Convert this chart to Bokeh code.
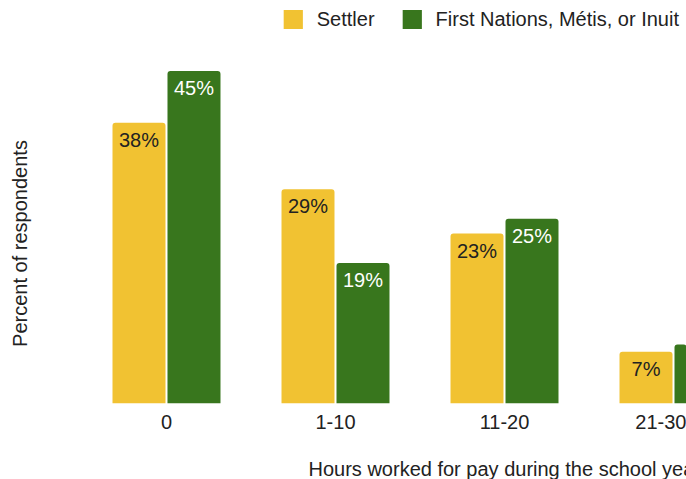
import numpy as np
from bokeh.plotting import figure
from bokeh.models import Range1d, FixedTicker, Legend, LegendItem, Label, ColumnDataSource, Title
from bokeh.core.properties import value
from bokeh.embed import file_html
from bokeh.resources import INLINE

# ---- data ----
categories = ["0", "1-10", "11-20", "21-30"]
settler = [38, 29, 23, 7]
first_nations = [45, 19, 25, 8]
series_names = ["Settler", "First Nations, Métis, or Inuit"]

YELLOW = "#F1C232"
GREEN = "#38761D"
FONT = "Liberation Sans"
TXT = "#222222"
FS = "20px"

idx = np.arange(len(categories))
off = 0.1627
bw = 0.3136

p = figure(width=686, height=479, output_backend="svg", toolbar_location=None,
           x_range=Range1d(-0.9822, 3.0769), y_range=Range1d(0, 54.53),
           min_border_left=0, min_border_right=0, min_border_top=0, min_border_bottom=76)
p.outline_line_color = None
p.xgrid.visible = False
p.ygrid.visible = False
p.yaxis.visible = False
p.background_fill_color = "white"

src_s = ColumnDataSource(dict(x=idx - off, top=settler, lab=[f"{v}%" for v in settler]))
src_f = ColumnDataSource(dict(x=idx + off, top=first_nations, lab=[f"{v}%" for v in first_nations]))

r1 = p.vbar(x="x", top="top", bottom=0, width=bw, source=src_s, fill_color=YELLOW,
            line_color=None, border_radius=(3, 3, 0, 0))
r2 = p.vbar(x="x", top="top", bottom=0, width=bw, source=src_f, fill_color=GREEN,
            line_color=None, border_radius=(3, 3, 0, 0))

p.text(x="x", y="top", text="lab", source=src_s, y_offset=17, text_align="center",
       text_baseline="middle", text_font=value(FONT), text_font_size=FS, text_color=TXT)
p.text(x="x", y="top", text="lab", source=src_f, y_offset=17, text_align="center",
       text_baseline="middle", text_font=value(FONT), text_font_size=FS, text_color="white")

ax = p.xaxis[0]
ax.ticker = FixedTicker(ticks=list(idx))
ax.major_label_overrides = {int(i): c for i, c in zip(idx, categories)}
ax.major_tick_line_color = None
ax.minor_tick_line_color = None
ax.axis_line_color = None
ax.major_label_text_font = FONT
ax.major_label_text_font_size = FS
ax.major_label_text_color = TXT
ax.major_label_standoff = 5
# spacer label (non-breaking space) to push the title lower
ax.axis_label = "\u00a0"
ax.axis_label_text_font_size = "12px"
ax.axis_label_standoff = 7

legend = Legend(items=[LegendItem(label=series_names[0], renderers=[r1]),
                       LegendItem(label=series_names[1], renderers=[r2])],
                orientation="horizontal", location="top_right", margin=7, padding=0,
                spacing=25, label_standoff=12, glyph_width=24, glyph_height=24,
                label_text_font=FONT, label_text_font_size=FS, label_text_color=TXT,
                border_line_color=None, background_fill_alpha=0)
p.add_layout(legend, "center")

xtitle = Title(text="Hours worked for pay during the school year", align="left", offset=308,
               standoff=0, vertical_align="bottom", text_font=FONT, text_font_size=FS,
               text_font_style="normal", text_color=TXT)
p.add_layout(xtitle, "below")

p.add_layout(Label(x=-0.864, y=21.65, text="Percent of respondents", angle=np.pi / 2,
                   text_align="center", text_baseline="middle", text_font=FONT,
                   text_font_size=FS, text_color=TXT))

open("out.html", "w").write(file_html(p, INLINE))
